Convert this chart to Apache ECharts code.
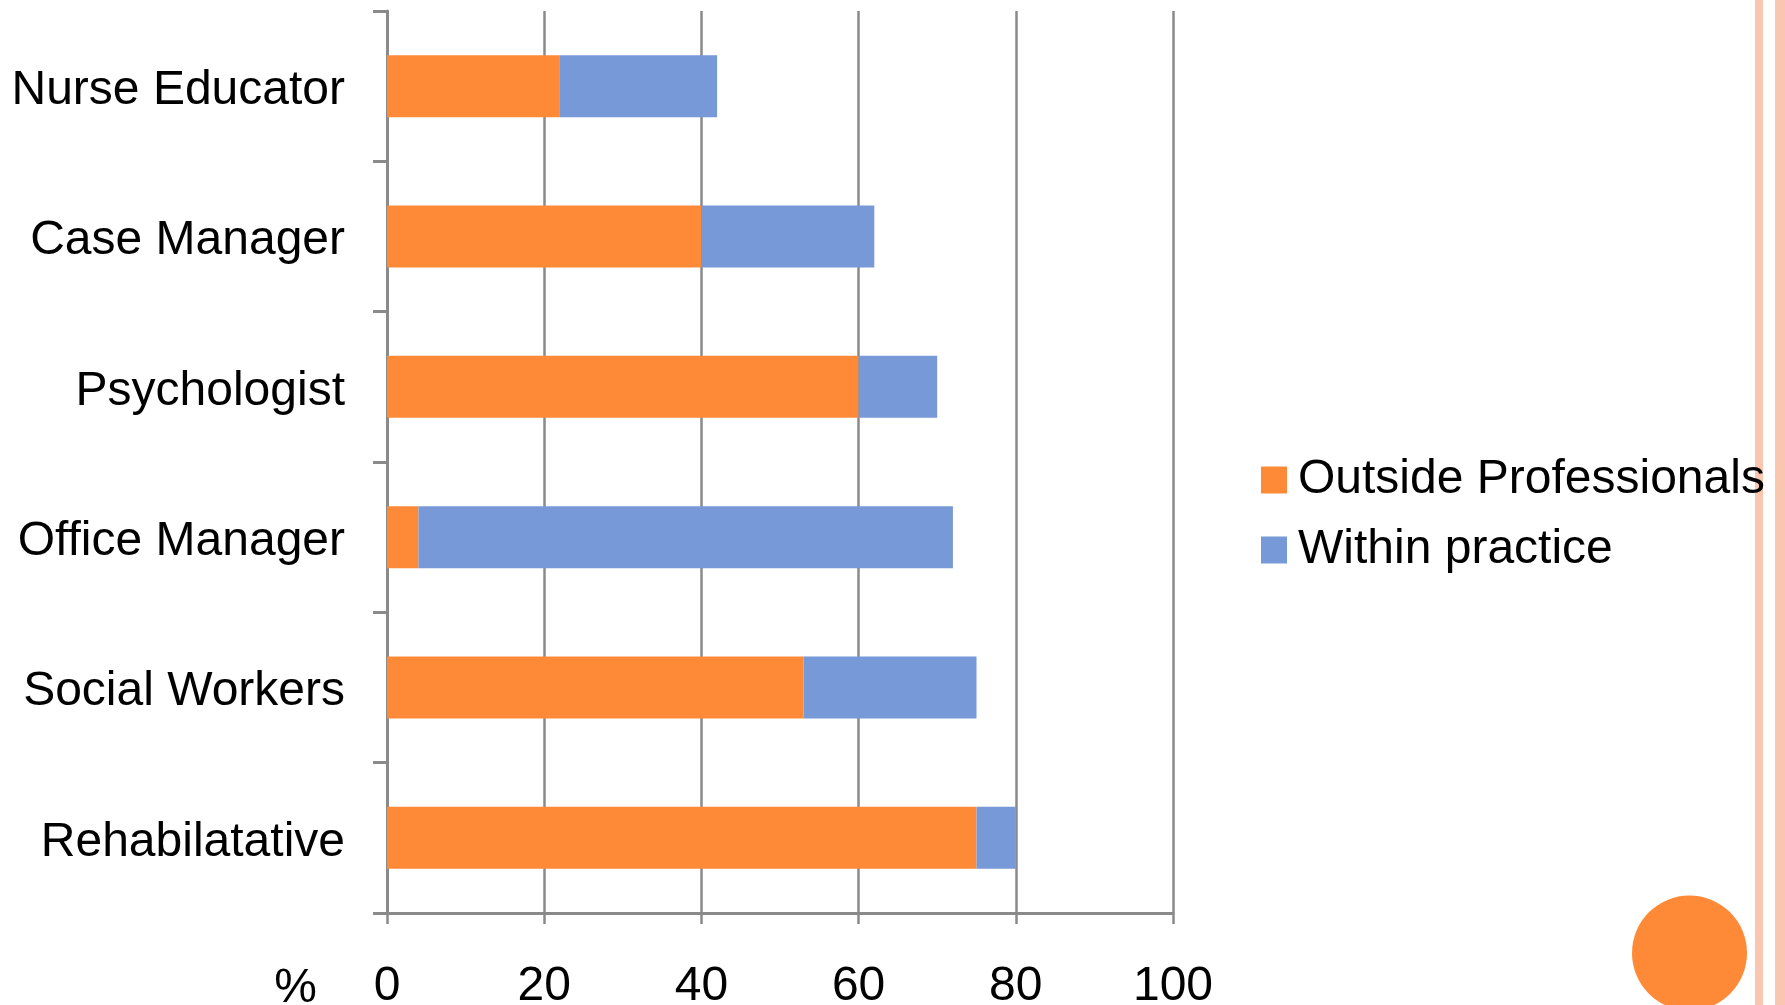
<!DOCTYPE html>
<html>
<head>
<meta charset="utf-8">
<title>Referral sources by role</title>
<script src="https://cdn.jsdelivr.net/npm/echarts@6/dist/echarts.min.js"></script>
<style>
  html, body { margin: 0; padding: 0; background: #ffffff; }
  #chart { width: 1785px; height: 1005px; }
</style>
</head>
<body>
<div id="chart"></div>
<script>
// Roles, listed top to bottom
const roles = ['Nurse Educator', 'Case Manager', 'Psychologist', 'Office Manager', 'Social Workers', 'Rehabilatative'];
// Share (%) handled by outside professionals
const outsideProfessionals = [22, 40, 60, 4, 53, 75];
// Share (%) handled within the practice
const withinPractice = [20, 22, 10, 68, 22, 5];
// Value axis ticks
const axisTicks = [0, 20, 40, 60, 80, 100];
const seriesNames = ['Outside Professionals', 'Within practice'];

const FONT = '"Liberation Sans", Arial, Helvetica, sans-serif';
const ORANGE = '#fe8a38';
const BLUE = '#7799d7';
const GRID_GRAY = '#8a8a8a';

const chart = echarts.init(document.getElementById('chart'), null, { renderer: 'canvas' });

chart.setOption({
  backgroundColor: '#ffffff',
  animation: false,
  textStyle: { fontFamily: FONT },
  grid: { left: 387, right: 612, top: 11, bottom: 92, containLabel: false, outerBoundsMode: 'none' },
  legend: {
    orient: 'vertical',
    left: 1261,
    top: 456,
    padding: 0,
    itemWidth: 26,
    itemHeight: 27,
    itemGap: 22,
    icon: 'rect',
    selectedMode: false,
    data: seriesNames,
    textStyle: { fontSize: 48, color: '#000', fontFamily: FONT, lineHeight: 48, padding: [0, 0, 0, 6] }
  },
  xAxis: {
    type: 'value',
    min: axisTicks[0],
    max: axisTicks[axisTicks.length - 1],
    interval: axisTicks[1] - axisTicks[0],
    name: '%',
    nameLocation: 'start',
    nameGap: 70,
    nameTextStyle: { fontSize: 48, color: '#000', fontFamily: FONT, verticalAlign: 'top', padding: [52, 0, 0, 0] },
    axisLine: { show: true, lineStyle: { color: GRID_GRAY, width: 3 } },
    axisTick: { show: true, inside: false, length: 11, lineStyle: { color: GRID_GRAY, width: 2.5 } },
    axisLabel: { fontSize: 48, color: '#000', fontFamily: FONT, margin: 50 },
    splitLine: { show: true, lineStyle: { color: GRID_GRAY, width: 2.5 } }
  },
  yAxis: {
    type: 'category',
    data: roles,
    inverse: true,
    axisLine: { show: true, lineStyle: { color: GRID_GRAY, width: 3 } },
    axisTick: { show: true, inside: false, length: 14, lineStyle: { color: GRID_GRAY, width: 3 } },
    axisLabel: {
      margin: 42,
      formatter: '{role|{value}}',
      rich: {
        role: { fontSize: 48, color: '#000', fontFamily: FONT, lineHeight: 48, padding: [9, 0, 0, 0] }
      }
    },
    splitLine: { show: false }
  },
  series: [
    {
      name: seriesNames[0],
      type: 'bar',
      stack: 'total',
      barWidth: 62,
      itemStyle: { color: ORANGE },
      data: outsideProfessionals
    },
    {
      name: seriesNames[1],
      type: 'bar',
      stack: 'total',
      barWidth: 62,
      itemStyle: { color: BLUE },
      data: withinPractice
    }
  ],
  graphic: [
    // slide decoration: twin stripes on the right edge and an accent dot
    { type: 'rect', shape: { x: 1755, y: 0, width: 8, height: 1005 }, style: { fill: '#fac6b0' }, silent: true },
    { type: 'rect', shape: { x: 1775, y: 0, width: 10, height: 1005 }, style: { fill: '#fac6b0' }, silent: true },
    { type: 'circle', shape: { cx: 1689.5, cy: 953, r: 57.5 }, style: { fill: ORANGE }, silent: true }
  ]
});
</script>
</body>
</html>
